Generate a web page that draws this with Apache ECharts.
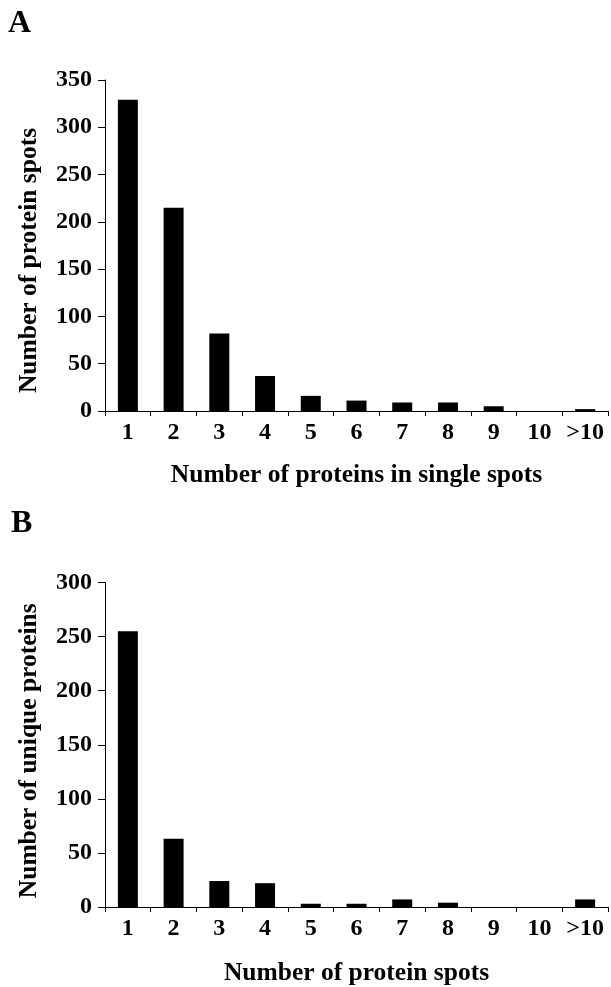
<!DOCTYPE html>
<html>
<head>
<meta charset="utf-8">
<script src="https://cdn.jsdelivr.net/npm/echarts@6/dist/echarts.min.js"></script>
<style>
  html, body { margin: 0; padding: 0; background: #fff; }
  #chart { width: 611px; height: 987px; }
</style>
</head>
<body>
<div id="chart"></div>
<script>
const categories = ['1', '2', '3', '4', '5', '6', '7', '8', '9', '10', '>10']
const spotsPerCount = [329, 215, 82, 37, 16, 11, 9, 9, 5, 0, 2]
const proteinsPerCount = [255, 63, 24, 22, 3, 3, 7, 4, 0, 0, 7]

const font = "'Liberation Serif', 'Times New Roman', serif"

const chart = echarts.init(document.getElementById('chart'))

const xAxisFor = (gridIndex, name, gap) => ({
    type: 'category',
    gridIndex,
    data: categories,
    name,
    nameLocation: 'middle',
    nameGap: gap,
    nameTextStyle: { fontFamily: font, fontWeight: 'bold', fontSize: 25.5, color: '#000' },
    axisLine: { lineStyle: { color: '#000', width: 1 } },
    axisTick: { show: true, length: 5, inside: false, lineStyle: { color: '#000' } },
    axisLabel: { fontFamily: font, fontWeight: 'bold', fontSize: 24, color: '#000', margin: 10, interval: 0 },
    splitLine: { show: false }
})

// padding on the right of the rotated name pushes it down the axis
const yAxisFor = (gridIndex, name, max, shift) => ({
    type: 'value',
    gridIndex,
    min: 0,
    max,
    interval: 50,
    name,
    nameLocation: 'middle',
    nameRotate: 90,
    nameGap: 63,
    nameTextStyle: { fontFamily: font, fontWeight: 'bold', fontSize: 25.5, color: '#000', padding: [0, shift, 0, 0] },
    axisLine: { show: true, lineStyle: { color: '#000', width: 1 } },
    axisTick: { show: true, length: 7, lineStyle: { color: '#000' } },
    axisLabel: { fontFamily: font, fontWeight: 'bold', fontSize: 24, color: '#000', margin: 13 },
    splitLine: { show: false }
})

chart.setOption({
    animation: false,
    backgroundColor: '#fff',
    title: [
        { text: 'A', left: 3, top: 3, textStyle: { fontFamily: font, fontWeight: 'bold', fontSize: 32, color: '#000' } },
        { text: 'B', left: 6, top: 503, textStyle: { fontFamily: font, fontWeight: 'bold', fontSize: 32, color: '#000' } }
    ],
    grid: [
        { left: 105, right: 3, top: 80, height: 331 },
        { left: 105, right: 3, top: 582.5, height: 327.5 }
    ],
    xAxis: [
        xAxisFor(0, 'Number of proteins in single spots', 51),
        xAxisFor(1, 'Number of protein spots', 53)
    ],
    yAxis: [
        yAxisFor(0, 'Number of protein spots', 350, 30),
        yAxisFor(1, 'Number of unique proteins', 300, 12)
    ],
    series: [
        {
            type: 'bar',
            xAxisIndex: 0,
            yAxisIndex: 0,
            data: spotsPerCount,
            barWidth: 20,
            itemStyle: { color: '#000' }
        },
        {
            type: 'bar',
            xAxisIndex: 1,
            yAxisIndex: 1,
            data: proteinsPerCount,
            barWidth: 20,
            itemStyle: { color: '#000' }
        }
    ]
})

window.addEventListener('resize', () => {
    chart.resize()
})
</script>
</body>
</html>
